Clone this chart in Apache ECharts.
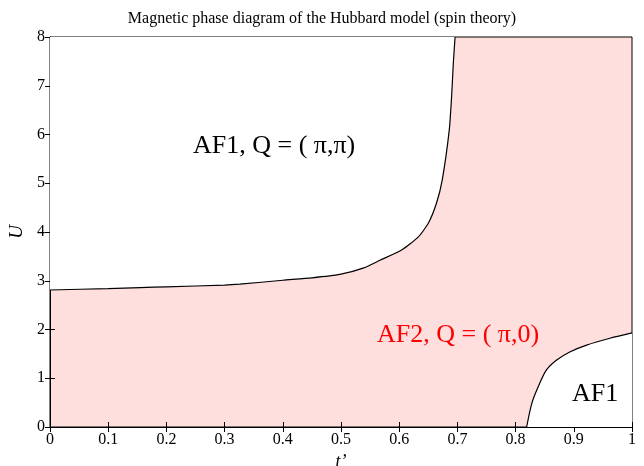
<!DOCTYPE html>
<html><head><meta charset="utf-8">
<script src="https://cdn.jsdelivr.net/npm/echarts@6/dist/echarts.min.js"></script>
<style>html,body{margin:0;padding:0;background:#fff;overflow:hidden}#c{width:644px;height:466px}</style>
</head><body><div id="c"></div>
<script>
// Boundary AF1 (pi,pi) / AF2 (pi,0)
const curve1T = [0, 0.1, 0.155, 0.2, 0.3, 0.326, 0.4, 0.45, 0.498, 0.538, 0.567, 0.604, 0.633, 0.65, 0.664, 0.674, 0.686, 0.690, 0.693, 0.696];
const curve1U = [2.81, 2.84, 2.86, 2.875, 2.91, 2.93, 3.01, 3.06, 3.13, 3.26, 3.42, 3.63, 3.90, 4.18, 4.59, 5.07, 6.09, 6.77, 7.46, 8.0];
// Boundary AF2 / AF1 (lower right)
const curve2T = [0.819, 0.828, 0.839, 0.853, 0.870, 0.893, 0.922, 0.962, 1.0];
const curve2U = [0, 0.49, 0.83, 1.17, 1.37, 1.54, 1.68, 1.82, 1.93];
const titleText = 'Magnetic phase diagram of the Hubbard model (spin theory)';
const regionLabels = ['AF1, Q = ( \u03c0,\u03c0)', 'AF2, Q = ( \u03c0,0)', 'AF1'];

const serif = '"Liberation Serif", "DejaVu Serif", serif';
const chart = echarts.init(document.getElementById('c'), null, {width: 644, height: 466});
const pair = (a, b) => a.map((v, i) => [v, b[i]]);
const axisCommon = {
  axisLine: {show: true, lineStyle: {color: '#000', width: 1}},
  axisTick: {show: true, inside: true, length: 5, lineStyle: {color: '#000'}},
  splitLine: {show: false}
};
chart.setOption({
  animation: false,
  title: {text: titleText, left: 'center', top: 6,
    textStyle: {fontFamily: serif, fontSize: 16, fontWeight: 'normal', color: '#000'}},
  grid: {left: 50, right: 12, top: 37, bottom: 39, outerBoundsMode: 'none', containLabel: false,
    show: true, backgroundColor: '#ffdede', borderColor: '#000', borderWidth: 1},
  xAxis: [
    Object.assign({type: 'value', min: 0, max: 1, interval: 0.1, position: 'bottom',
      name: 't\u2019', nameLocation: 'middle', nameGap: 24,
      nameTextStyle: {fontFamily: serif, fontSize: 18, fontStyle: 'italic', color: '#000'},
      axisLabel: {fontFamily: serif, fontSize: 16, color: '#000', margin: 5}}, axisCommon),
    Object.assign({type: 'value', min: 0, max: 1, interval: 0.1, position: 'top', axisLabel: {show: false}}, axisCommon)
  ],
  yAxis: [
    Object.assign({type: 'value', min: 0, max: 8, interval: 1, position: 'left',
      name: 'U', nameLocation: 'middle', nameGap: 22, nameRotate: 90,
      nameTextStyle: {fontFamily: serif, fontSize: 19, fontStyle: 'italic', color: '#000'},
      axisLabel: {fontFamily: serif, fontSize: 16, color: '#000', margin: 5}}, axisCommon),
    Object.assign({type: 'value', min: 0, max: 8, interval: 1, position: 'right', axisLabel: {show: false}}, axisCommon)
  ],
  series: [
    {type: 'line', data: pair(curve1T, curve1U), showSymbol: false, symbol: 'none', smooth: 0.2,
      lineStyle: {color: '#000', width: 1.2}, areaStyle: {color: '#fff', opacity: 1, origin: 'end'}, z: 3},
    {type: 'line', data: pair(curve2T, curve2U), showSymbol: false, symbol: 'none', smooth: 0.3,
      lineStyle: {color: '#000', width: 1.2}, areaStyle: {color: '#fff', opacity: 1, origin: 'start'}, z: 3}
  ],
  graphic: [
    {type: 'text', x: 193, y: 146, z: 10, style: {text: regionLabels[0], font: '26px ' + serif, fill: '#000', verticalAlign: 'middle'}},
    {type: 'text', x: 377, y: 335, z: 10, style: {text: regionLabels[1], font: '26px ' + serif, fill: '#ff0000', verticalAlign: 'middle'}},
    {type: 'text', x: 572, y: 394, z: 10, style: {text: regionLabels[2], font: '26px ' + serif, fill: '#000', verticalAlign: 'middle'}}
  ]
});
</script></body></html>
